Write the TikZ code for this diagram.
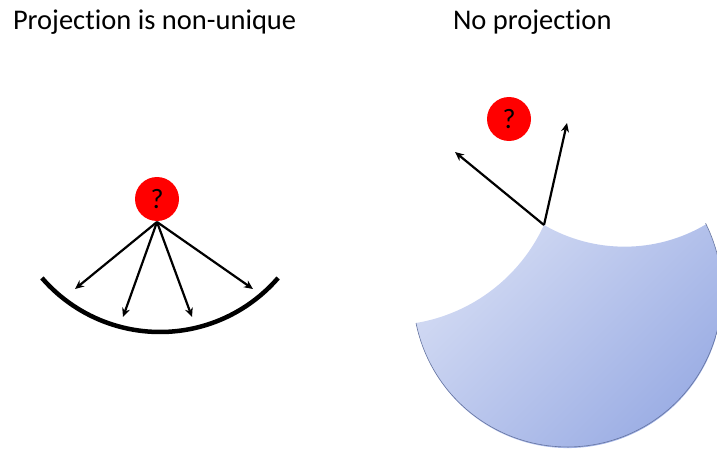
\documentclass[tikz,border=0pt]{standalone}
\usepackage{fontspec}
\setmainfont{Carlito}[Ligatures=NoCommon]
\usetikzlibrary{arrows.meta}

\definecolor{lavlight}{HTML}{D2DAF3}
\definecolor{lavdark}{HTML}{97AAE3}
\definecolor{lavedge}{HTML}{6574A0}

\begin{document}
\begin{tikzpicture}[x=1pt,y=1pt,>={Stealth[length=9pt,width=8pt]}, line width=2pt]
  \tikzstyle{title} = [anchor=base west, inner sep=0pt, font=\fontsize{28.5}{32}\selectfont]
  \tikzstyle{query} = [circle, fill=red, minimum size=44pt, inner sep=0pt, font=\fontsize{28}{32}\selectfont]
  \tikzstyle{proj} = [->, line width=2.2pt]

  \useasboundingbox (0,0) rectangle (717,448);
  \clip (0,0) rectangle (717,448);

  % Titles
  \node[title] (t1) at (12,418) {Projection is non-unique};
  \node[title] (t2) at (452,418) {No projection};

  % Left: point over a concave arc
  \draw[line width=4.5pt] (160,272) ++(220.8:156) arc (220.8:319.2:156);
  \node[query] (q1) at (157,249) {?};

  \coordinate (p1) at (75,159);
  \coordinate (p2) at (123,131);
  \coordinate (p3) at (192,131);
  \coordinate (p4) at (253,159);
  \foreach \p in {p1,p2,p3,p4}
    \draw[proj] (q1.south) -- (\p);

  % Right: disk with two bites taken out
  \coordinate (cornerL) at (416,125);
  \coordinate (cusp) at (544,223);
  \shade[top color=lavlight, bottom color=lavdark, shading angle=45]
    (cornerL) arc[start angle=-80.5, end angle=-24.6, radius=172]
    arc[start angle=-120.2, end angle=-59.4, radius=160]
    arc[start angle=26.6, end angle=-168.6, radius=154.5] -- cycle;
  \draw[lavedge, line width=0.6pt] (705.6,224.7) arc[start angle=26.6, end angle=-168.6, radius=154.5];

  \node[query] (q2) at (509,329) {?};

  \coordinate (n1) at (455,296);
  \coordinate (n2) at (567,325);
  \draw[proj] (cusp) -- (n1);
  \draw[proj] (cusp) -- (n2);
\end{tikzpicture}
\end{document}
